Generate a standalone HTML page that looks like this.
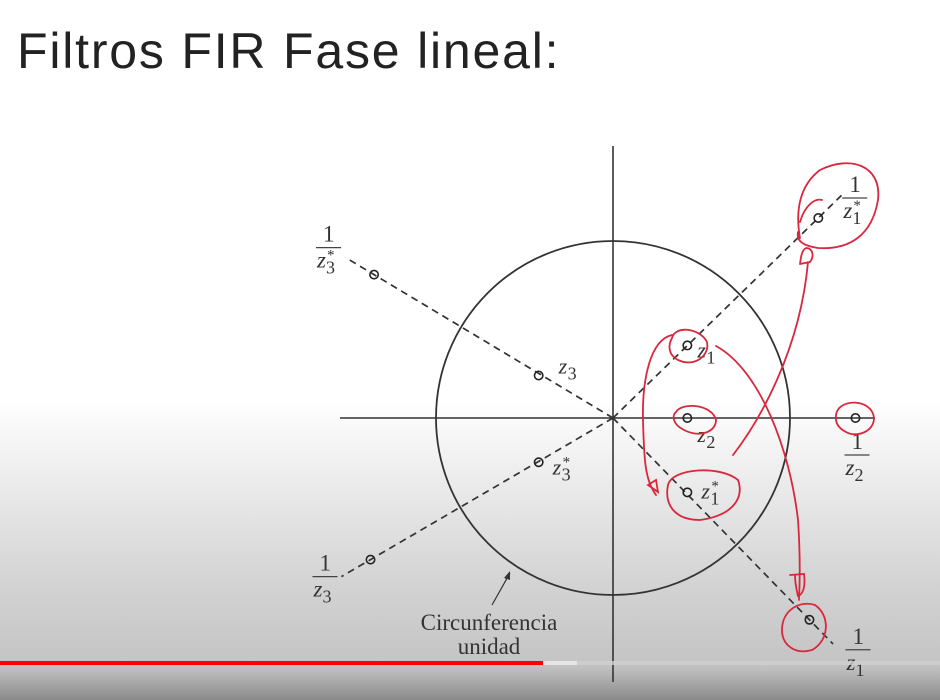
<!DOCTYPE html>
<html><head><meta charset="utf-8"><style>
html,body{margin:0;padding:0;width:940px;height:700px;overflow:hidden}
body{position:relative;background:linear-gradient(to bottom,#fff 0px,#fff 400px,#ececec 480px,#d4d4d4 580px,#c4c4c4 664px,#bdbdbd 670px,#8a8a8a 700px);font-family:"Liberation Sans",sans-serif}
#title{position:absolute;left:17px;top:22px;font-size:50px;color:#222;font-weight:normal;letter-spacing:1.8px}
svg{position:absolute;left:0;top:0}
.lbl{font-family:"Liberation Serif",serif;fill:#333;font-style:italic}
.up{font-family:"Liberation Serif",serif;fill:#333}
</style></head><body>
<div id="title">Filtros FIR Fase lineal:</div>
<svg width="940" height="700">
<g id="axes"></g>
<g id="pts"></g>
<g id="ink" fill="none" stroke="#d8283c" stroke-width="1.8" stroke-linecap="round">
<path d="M800,238 C795,210 800,185 820,170 C850,155 882,165 878,200 C872,235 850,250 818,248 C805,246 796,242 798,232 M800,222 C805,205 815,198 822,200"/>
<path d="M672,338 C675,325 700,328 707,342 C710,355 695,368 678,360 C668,355 668,345 672,338"/>
<path d="M676,412 C682,402 712,404 716,420 C716,432 700,438 684,430 C672,424 672,415 676,412"/>
<path d="M836,415 C838,398 872,398 874,418 C874,432 856,438 846,432 C838,428 835,422 836,415"/>
<path d="M668,485 C672,468 720,465 738,480 C745,500 730,516 700,520 C675,520 664,505 668,485"/>
<path d="M782,630 C782,610 800,600 815,605 C830,615 830,640 812,650 C795,655 782,645 782,630"/>
<path d="M672,335 C650,340 642,380 643,420 C644,460 645,480 656,495 M648,485 L656,480 L658,492 Z"/>
<path d="M733,455 C760,420 800,350 808,262 M800,264 L810,262 C815,255 812,248 806,248 C802,250 801,256 800,264"/>
<path d="M716,346 C760,370 790,450 798,520 C800,550 800,580 799,600 M790,575 L804,574 C806,588 802,595 798,596 C796,588 795,580 795,575"/>
</g>
<rect x="0" y="661" width="543" height="4" fill="#ff0000"/>
<rect x="543" y="661" width="34" height="4" fill="#e6e6e6"/>
<rect x="577" y="661" width="363" height="4" fill="#cfcfcf" opacity="0.8"/>
</svg>
<script>
const pointNames=["z1","1/z1*","z2","1/z2","z1*","1/z1","z3","1/z3*","z3*","1/z3"];
const pointRe=[0.42,1.16,0.42,1.37,0.42,1.11,-0.42,-1.35,-0.42,-1.37];
const pointIm=[0.41,1.13,0,0,-0.42,-1.14,0.24,0.81,-0.25,-0.80];
const ox=613,oy=418,R=177;
const sx=v=>ox+v*R, sy=v=>oy-v*R;
const NS="http://www.w3.org/2000/svg";
function mk(tag,attrs,parent){const e=document.createElementNS(NS,tag);for(const k in attrs)e.setAttribute(k,attrs[k]);parent.appendChild(e);return e;}
const ax=document.getElementById('axes'), pg=document.getElementById('pts');
let l=mk('line',{x1:340,y1:oy,x2:875,y2:oy,stroke:'#333','stroke-width':1.6},ax);


l=mk('line',{x1:ox,y1:146,x2:ox,y2:682,stroke:'#333','stroke-width':1.6},ax);


let c=mk('circle',{cx:ox,cy:oy,r:R,fill:'none',stroke:'#333','stroke-width':1.8},ax);


[1,5,7,9].forEach(i=>{
  const ex=pointRe[i]*1.12, ey=pointIm[i]*1.12;
  const d=mk('line',{x1:ox,y1:oy,x2:sx(ex),y2:sy(ey),stroke:'#333','stroke-width':1.7,'stroke-dasharray':'7,5'},ax);
  
  
});
l=mk('line',{x1:492,y1:605,x2:510,y2:573,stroke:'#333','stroke-width':1.2},ax);


let a=mk('path',{d:'M510,571 L504,578 L510,580 Z',fill:'#333'},ax);


let t=mk('text',{x:489,y:630,'font-size':23,'text-anchor':'middle',class:'up'},ax);
t.textContent='Circunferencia';


t=mk('text',{x:489,y:654,'font-size':23,'text-anchor':'middle',class:'up'},ax);
t.textContent='unidad';


const lab=[[10,12,'z','1',''],[25,-22,'frac','1','*'],[10,24,'z','2',''],[-10,35,'frac','2',''],[14,6,'z','1','*'],[37,28,'frac','1',''],[20,-2,'z','3',''],[-57,-29,'frac','3','*'],[14,12,'z','3','*'],[-57,15,'frac','3','']];
pointNames.forEach((n,i)=>{
  const x=sx(pointRe[i]),y=sy(pointIm[i]);
  const p=mk('circle',{cx:x,cy:y,r:4.2,fill:'none',stroke:'#222','stroke-width':1.6},pg);
  
  
  const [dx,dy,kind,sub,star]=lab[i];
  const g=mk('g',{},pg);
  
  
  if(kind==='z'){
    const tt=mk('text',{x:x+dx,y:y+dy,'font-size':22,class:'lbl'},g);
    tt.textContent='z';
    const s=mk('text',{x:x+dx+9,y:y+dy+6,'font-size':18,class:'up'},g);s.textContent=sub;
    if(star){const st=mk('text',{x:x+dx+10,y:y+dy-8,'font-size':15,class:'up'},g);st.textContent='*';}
  } else {
    const bx=x+dx,by=y+dy;
    const one=mk('text',{x:bx+6,y:by-4,'font-size':23,class:'up'},g);one.textContent='1';
    mk('line',{x1:bx-1,y1:by+2,x2:bx+24,y2:by+2,stroke:'#444','stroke-width':1.3},g);
    const tt=mk('text',{x:bx,y:by+22,'font-size':23,class:'lbl'},g);tt.textContent='z';
    const s=mk('text',{x:bx+9,y:by+28,'font-size':18,class:'up'},g);s.textContent=sub;
    if(star){const st=mk('text',{x:bx+10,y:by+14,'font-size':15,class:'up'},g);st.textContent='*';}
  }
});
</script>
</body></html>
